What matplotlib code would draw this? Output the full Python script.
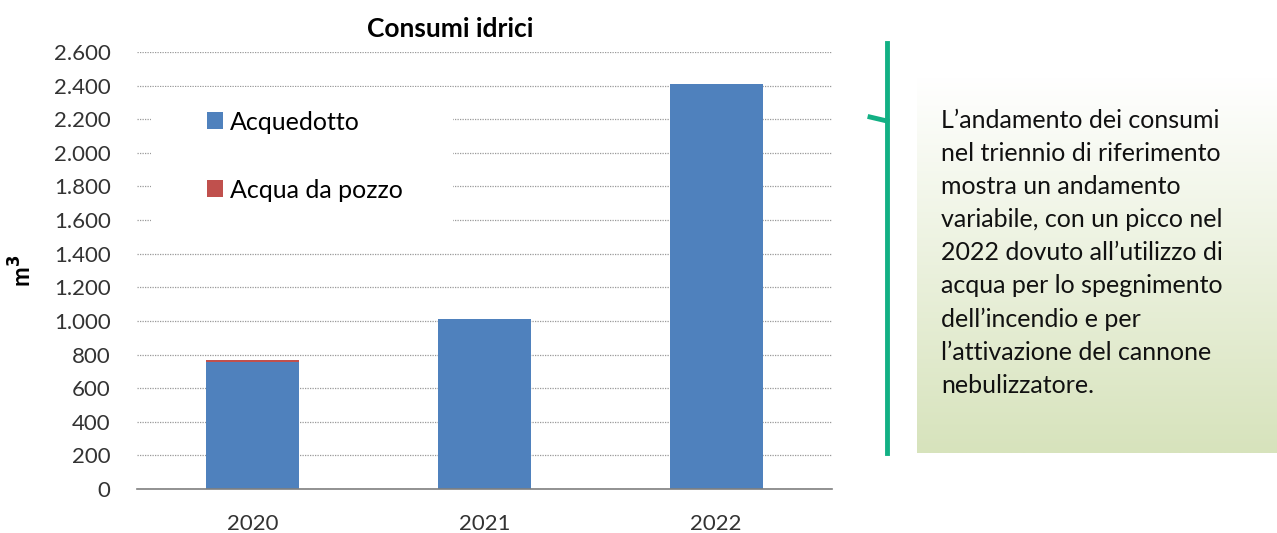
import numpy as np
import matplotlib.pyplot as plt
from matplotlib.patches import Rectangle
from matplotlib.colors import LinearSegmentedColormap

plt.rcParams['font.family'] = ['Lato', 'DejaVu Sans']

anni = ['2020', '2021', '2022']
acquedotto = [757, 1012, 2410]
pozzo = [11, 0, 0]
tick_y = [0, 200, 400, 600, 800, 1000, 1200, 1400, 1600, 1800, 2000, 2200, 2400, 2600]
tick_lab = ['0', '200', '400', '600', '800', '1.000', '1.200', '1.400', '1.600',
            '1.800', '2.000', '2.200', '2.400', '2.600']
testo = ("L\u2019andamento dei consumi\nnel triennio di riferimento\nmostra un andamento\n"
         "variabile, con un picco nel\n2022 dovuto all\u2019utilizzo di\n"
         "acqua per lo spegnimento\ndell\u2019incendio e per\n"
         "l\u2019attivazione del cannone\nnebulizzatore.")

W, H = 1277, 533
fig = plt.figure(figsize=(W / 100, H / 100), dpi=100)

# grafico
ax = fig.add_axes([137 / W, 1 - 489 / H, (832 - 137) / W, (489 - 52) / H])
x = np.arange(len(anni))
ax.set_axisbelow(True)
ax.bar(x, acquedotto, width=0.4, color='#4f81bd', label='Acquedotto', zorder=2)
ax.bar(x, pozzo, width=0.4, bottom=acquedotto, color='#c0504d', label='Acqua da pozzo', zorder=2)
ax.set_xlim(-0.5, 2.5)
ax.set_ylim(0, 2600)
ax.set_yticks(tick_y)
ax.set_yticklabels(tick_lab)
ax.set_xticks(x)
ax.set_xticklabels(anni)
ax.tick_params(axis='both', length=0, labelsize=16, colors='#333333')
ax.tick_params(axis='y', pad=19)
ax.tick_params(axis='x', pad=18)
ax.grid(axis='y', linestyle=(0, (1, 1)), color='#999999', linewidth=0.9)
for s in ['top', 'right', 'left']:
    ax.spines[s].set_visible(False)
ax.spines['bottom'].set_color('#7f7f7f')
ax.spines['bottom'].set_linewidth(1.2)
ax.set_ylabel('m$^\\mathbf{3}$', fontsize=17, fontweight='bold', labelpad=13)
ax.set_title('Consumi idrici', fontsize=19, fontweight='bold', x=0.45, pad=11)

# sfondo bianco della legenda
ax.add_patch(Rectangle((151 / W, 1 - 236 / H), 302 / W, 149 / H, transform=fig.transFigure,
                       facecolor='white', edgecolor='none', zorder=1))
ax.legend(loc='upper left', bbox_to_anchor=(184 / W, 1 - 88 / H), bbox_transform=fig.transFigure,
          frameon=False, fontsize=18, labelspacing=1.8, handlelength=0.65, handleheight=0.65,
          handletextpad=0.3)

# riquadro di testo con sfumatura
tax = fig.add_axes([917 / W, 1 - 453 / H, (W - 917) / W, (453 - 77) / H])
cmap = LinearSegmentedColormap.from_list('g', ['#ffffff', '#d7e3bc'])
grad = np.linspace(0, 1, 256).reshape(-1, 1)
tax.imshow(grad, aspect='auto', cmap=cmap, extent=[0, 1, 0, 1], origin='upper')
tax.set_xlim(0, 1)
tax.set_ylim(0, 1)
tax.axis('off')
tax.text(24 / (W - 917), 1 - 32 / (453 - 77), testo, ha='left', va='top', fontsize=18,
         linespacing=1.53, color='#111111', transform=tax.transAxes)

# linea verde
fig.add_artist(plt.Line2D([887 / W, 887 / W], [1 - 43 / H, 1 - 453 / H], color='#12b084',
                          linewidth=3.5, transform=fig.transFigure))
fig.add_artist(plt.Line2D([870 / W, 887 / W], [1 - 117 / H, 1 - 121 / H], color='#12b084',
                          linewidth=3.5, transform=fig.transFigure))

fig.savefig('out.png', dpi=100)
